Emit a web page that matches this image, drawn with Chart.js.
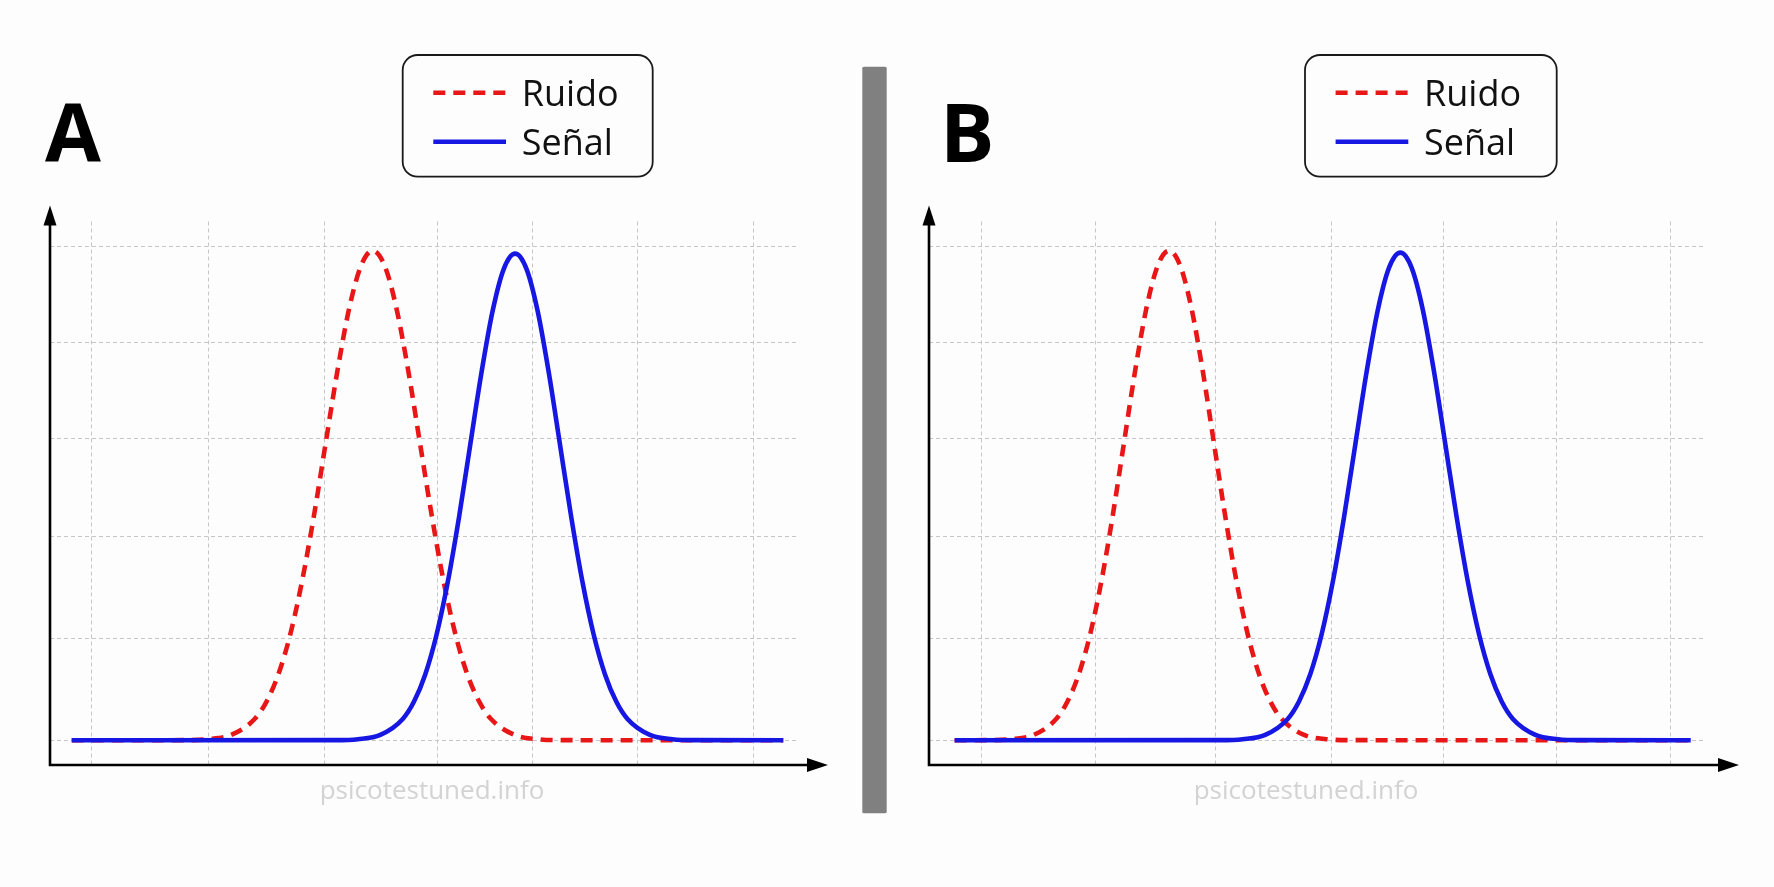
<!DOCTYPE html>
<html>
<head>
<meta charset="utf-8">
<script src="https://cdn.jsdelivr.net/npm/chart.js@4.4.0/dist/chart.umd.min.js"></script>
<style>
  html, body { margin: 0; padding: 0; background: #fdfdfd; }
  #page { position: relative; width: 1774px; height: 887px; overflow: hidden; font-family: "Open Sans", sans-serif; }
  .panel { position: absolute; top: 0; height: 887px; }
  #panelA { left: 0; width: 860px; }
  #panelB { left: 890px; width: 884px; }
  #overlay { position: absolute; left: 0; top: 0; pointer-events: none; }
</style>
</head>
<body>
<div id="page">
  <div class="panel" id="panelA"><canvas id="chartA"></canvas></div>
  <div class="panel" id="panelB"><canvas id="chartB"></canvas></div>
  <svg id="overlay" width="1774" height="887" xmlns="http://www.w3.org/2000/svg">
    <rect x="862.3" y="66.7" width="24.4" height="746.6" rx="1.5" fill="#808080"></rect>
    <text x="45" y="161.7" font-family="Open Sans" font-weight="700" font-size="81" fill="#000">A</text>
    <text x="940" y="161.7" font-family="Open Sans" font-weight="700" font-size="81" fill="#000">B</text>
    <text x="432" y="799" text-anchor="middle" font-family="Open Sans" font-size="26" fill="#d3d3d3">psicotestuned.info</text>
    <text x="1306" y="799" text-anchor="middle" font-family="Open Sans" font-size="26" fill="#d3d3d3">psicotestuned.info</text>
    <g id="legendA"></g>
    <g id="legendB"></g>
  </svg>
</div>

<script>
// series names
const seriesNames = ['Ruido', 'Señal'];

// gridline positions (x in % of the axis, y in density units)
const gridX_A = [5.6, 21.2, 36.6, 51.7, 64.4, 78.5, 93.9];
const gridX_B = [6.7, 21.5, 36.9, 51.8, 66.3, 80.8, 95.5];
const gridY = [0, 0.207, 0.413, 0.611, 0.806, 1.0];

// panel A - noise (red dashed) and signal (blue)
const ruidoA_x = [2.9, 17.9, 21.05, 24.2, 27.35, 28.93, 30.5, 32.08, 33.65, 35.23, 36.8, 38.38, 39.95, 41.53, 43.1,
    44.68, 46.25, 47.83, 49.4, 50.98, 52.55, 54.13, 55.7, 57.28, 58.85, 62.0, 65.15, 68.3, 97.9];
const ruidoA_y = [0, 0.0003, 0.0022, 0.011, 0.0435, 0.0789, 0.1341, 0.2144, 0.3218, 0.4537, 0.601, 0.748, 0.8746, 0.9605, 0.991,
    0.9605, 0.8746, 0.748, 0.601, 0.4537, 0.3218, 0.2144, 0.1341, 0.0789, 0.0435, 0.011, 0.0022, 0.0003, 0];
const senalA_x = [2.9, 38.1, 41.1, 44.1, 47.1, 48.6, 50.1, 51.6, 53.1, 54.6, 56.1, 57.6, 59.1, 60.6, 62.1,
    63.6, 65.1, 66.6, 68.1, 69.6, 71.1, 72.6, 74.1, 75.6, 77.1, 80.1, 83.1, 86.1, 97.9];
const senalA_y = [0, 0.0003, 0.0022, 0.0109, 0.0432, 0.0784, 0.1333, 0.2131, 0.3198, 0.4509, 0.5974, 0.7435, 0.8693, 0.9547, 0.985,
    0.9547, 0.8693, 0.7435, 0.5974, 0.4509, 0.3198, 0.2131, 0.1333, 0.0784, 0.0432, 0.0109, 0.0022, 0.0003, 0];

// panel B - same shapes, pulled further apart
const ruidoB_x = [3.3, 7.7, 10.6, 13.5, 16.4, 17.85, 19.3, 20.75, 22.2, 23.65, 25.1, 26.55, 28.0, 29.45, 30.9,
    32.35, 33.8, 35.25, 36.7, 38.15, 39.6, 41.05, 42.5, 43.95, 45.4, 48.3, 51.2, 54.1, 98.1];
const ruidoB_y = [0, 0.0003, 0.0022, 0.011, 0.0435, 0.0789, 0.1341, 0.2144, 0.3218, 0.4537, 0.601, 0.748, 0.8746, 0.9605, 0.991,
    0.9605, 0.8746, 0.748, 0.601, 0.4537, 0.3218, 0.2144, 0.1341, 0.0789, 0.0435, 0.011, 0.0022, 0.0003, 0];
const senalB_x = [3.3, 37.5, 40.4, 43.3, 46.2, 47.65, 49.1, 50.55, 52.0, 53.45, 54.9, 56.35, 57.8, 59.25, 60.7,
    62.15, 63.6, 65.05, 66.5, 67.95, 69.4, 70.85, 72.3, 73.75, 75.2, 78.1, 81.0, 83.9, 98.1];
const senalB_y = [0, 0.0003, 0.0022, 0.011, 0.0433, 0.0786, 0.1335, 0.2135, 0.3205, 0.4519, 0.5986, 0.745, 0.871, 0.9566, 0.987,
    0.9566, 0.871, 0.745, 0.5986, 0.4519, 0.3205, 0.2135, 0.1335, 0.0786, 0.0433, 0.011, 0.0022, 0.0003, 0];

const RED = '#e81616';
const BLUE = '#1717e3';

function zip(xs, ys) {
    return xs.map((x, i) => ({ x: x, y: ys[i] }));
}

// black axis lines with arrow heads, drawn over the curves
const axisArrows = {
    id: 'axisArrows',
    afterDatasetsDraw(chart, args, opts) {
        const { ctx, chartArea: { left, right, top, bottom } } = chart;
        const tipX = right + opts.overX;
        const tipY = top - opts.overY;
        ctx.save();
        ctx.strokeStyle = '#000';
        ctx.fillStyle = '#000';
        ctx.lineWidth = 2.6;
        ctx.beginPath();
        ctx.moveTo(left, tipY + 12);
        ctx.lineTo(left, bottom);
        ctx.lineTo(tipX - 12, bottom);
        ctx.stroke();

        ctx.beginPath();
        ctx.moveTo(left, tipY);
        ctx.lineTo(left - 6.5, tipY + 20);
        ctx.lineTo(left + 6.5, tipY + 20);
        ctx.closePath();
        ctx.fill();

        ctx.beginPath();
        ctx.moveTo(tipX, bottom);
        ctx.lineTo(tipX - 21, bottom - 7);
        ctx.lineTo(tipX - 21, bottom + 7);
        ctx.closePath();
        ctx.fill();
        ctx.restore();
    }
};

function makeChart(canvasId, gridX, ruido, senal, padding, arrows) {
    const gridOpts = { color: '#c6c6c6', lineWidth: 1, drawTicks: false };
    const borderOpts = { display: false, dash: [4, 3] };
    return new Chart(document.getElementById(canvasId), {
        type: 'line',
        data: {
            datasets: [
                {
                    label: seriesNames[0],
                    data: ruido,
                    borderColor: RED,
                    borderWidth: 4.6,
                    borderDash: [12, 8],
                    order: 1
                },
                {
                    label: seriesNames[1],
                    data: senal,
                    borderColor: BLUE,
                    borderWidth: 4.6,
                    order: 0
                }
            ]
        },
        options: {
            responsive: true,
            maintainAspectRatio: false,
            animation: false,
            events: [],
            layout: { padding: padding },
            elements: {
                point: { radius: 0 },
                line: { cubicInterpolationMode: 'monotone', fill: false, borderCapStyle: 'butt', borderJoinStyle: 'round' }
            },
            scales: {
                x: {
                    type: 'linear',
                    min: 0,
                    max: 100,
                    grid: gridOpts,
                    border: borderOpts,
                    ticks: { display: false },
                    afterBuildTicks: (axis) => { axis.ticks = gridX.map(v => ({ value: v })); }
                },
                y: {
                    type: 'linear',
                    min: -0.05,
                    max: 1.05,
                    grid: gridOpts,
                    border: borderOpts,
                    ticks: { display: false },
                    afterBuildTicks: (axis) => { axis.ticks = gridY.map(v => ({ value: v })); }
                }
            },
            plugins: {
                legend: { display: false },
                tooltip: { enabled: false },
                axisArrows: arrows
            }
        },
        plugins: [axisArrows]
    });
}

const chartA = makeChart('chartA', gridX_A, zip(ruidoA_x, ruidoA_y), zip(senalA_x, senalA_y),
    { left: 50, right: 61, top: 221.5, bottom: 122 }, { overX: 29, overY: 16 });
const chartB = makeChart('chartB', gridX_B, zip(ruidoB_x, ruidoB_y), zip(senalB_x, senalB_y),
    { left: 39, right: 68.5, top: 221.5, bottom: 122 }, { overX: 33.5, overY: 16 });

// legend box built from the chart's own datasets
function buildLegend(groupId, chart, box) {
    const NS = 'http://www.w3.org/2000/svg';
    const g = document.getElementById(groupId);
    const rect = document.createElementNS(NS, 'rect');
    rect.setAttribute('x', box.x);
    rect.setAttribute('y', box.y);
    rect.setAttribute('width', box.w);
    rect.setAttribute('height', box.h);
    rect.setAttribute('rx', 15);
    rect.setAttribute('fill', '#fdfdfd');
    rect.setAttribute('stroke', '#1a1a1a');
    rect.setAttribute('stroke-width', 1.8);
    g.appendChild(rect);

    chart.data.datasets.forEach((ds, i) => {
        const cy = box.y + 37.7 + i * 49;
        const line = document.createElementNS(NS, 'line');
        line.setAttribute('x1', box.x + 30.6);
        line.setAttribute('x2', box.x + 103.3);
        line.setAttribute('y1', cy);
        line.setAttribute('y2', cy);
        line.setAttribute('stroke', ds.borderColor);
        line.setAttribute('stroke-width', ds.borderWidth);
        if (ds.borderDash) line.setAttribute('stroke-dasharray', ds.borderDash.join(' '));
        g.appendChild(line);

        const txt = document.createElementNS(NS, 'text');
        txt.setAttribute('x', box.x + 119);
        txt.setAttribute('y', cy + 13);
        txt.setAttribute('font-family', 'Open Sans');
        txt.setAttribute('font-size', 36);
        txt.setAttribute('fill', '#111');
        txt.textContent = ds.label;
        g.appendChild(txt);
    });
}

buildLegend('legendA', chartA, { x: 402.7, y: 55, w: 250, h: 121.7 });
buildLegend('legendB', chartB, { x: 1305, y: 55, w: 251.7, h: 121.7 });
</script>
</body>
</html>
